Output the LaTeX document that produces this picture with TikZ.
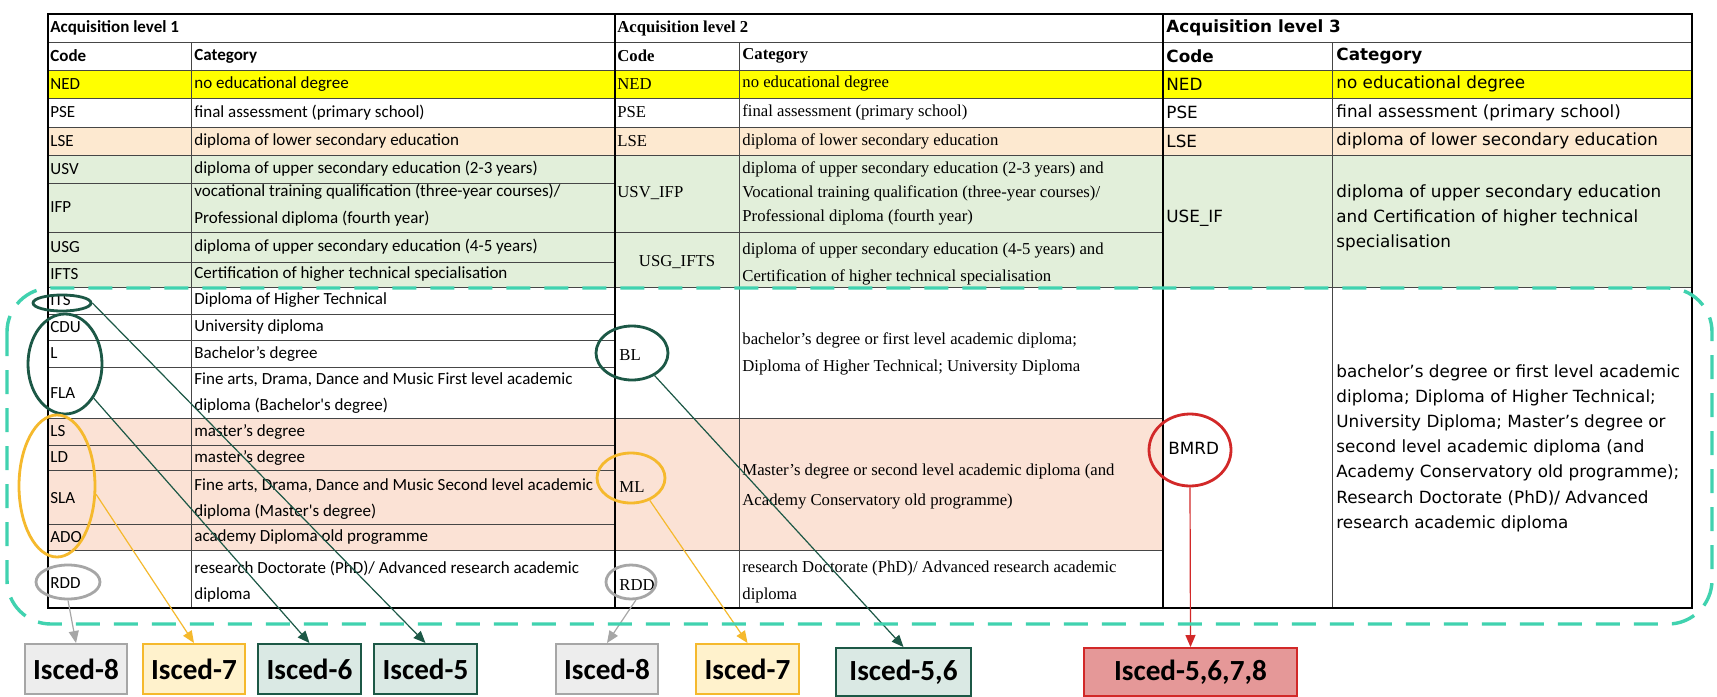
\documentclass[tikz,border=0pt]{standalone}
\usepackage{fontspec}
\setmainfont{Carlito}
\newfontfamily\garfont{Liberation Serif}
\newfontfamily\tahfont{DejaVu Sans}
\usetikzlibrary{shapes.geometric,arrows.meta}

\definecolor{nedyellow}{RGB}{255,255,0}
\definecolor{lsepeach}{RGB}{253,233,208}
\definecolor{uppergreen}{RGB}{226,239,218}
\definecolor{masterpink}{RGB}{251,226,213}
\definecolor{darkgreen}{RGB}{28,88,70}
\definecolor{ringyellow}{RGB}{245,185,45}
\definecolor{ringgray}{RGB}{166,166,166}
\definecolor{ringred}{RGB}{210,40,40}
\definecolor{loopteal}{RGB}{64,210,175}
\definecolor{boxgray}{RGB}{237,237,237}
\definecolor{boxyellow}{RGB}{255,242,204}
\definecolor{boxgreen}{RGB}{218,233,228}
\definecolor{boxred}{RGB}{229,152,152}
\definecolor{gridline}{RGB}{70,70,70}

\begin{document}
\begin{tikzpicture}
  [x=0.5pt,y=-0.5pt,every node/.style={inner sep=0pt},
   ta/.style={anchor=west,align=left,font=\fontsize{8.5}{13.2}\selectfont},
   tah/.style={anchor=west,font=\bfseries\fontsize{8.5}{10}\selectfont},
   tb/.style={anchor=west,align=left,font=\garfont\fontsize{8.35}{13.5}\selectfont},
   tbh/.style={anchor=west,font=\garfont\bfseries\fontsize{8.35}{10}\selectfont},
   tc/.style={anchor=west,align=left,font=\tahfont\fontsize{8.4}{12.6}\selectfont},
   tch/.style={anchor=west,font=\tahfont\bfseries\fontsize{8.4}{10}\selectfont},
   ring/.style={ellipse,draw=#1,line width=1.4pt},
   isced/.style={draw,line width=1pt,minimum height=25pt,font=\bfseries\fontsize{14.6}{16}\selectfont},
   link/.style={draw=#1,line width=0.6pt,-{Triangle[length=6pt,width=5pt]}}]
  \fill[white] (0,0) rectangle (1717,696);
  \useasboundingbox (0,0) rectangle (1717,696);

  % cell colours
  \fill[nedyellow] (48,70) rectangle (1692,98);
  \fill[lsepeach] (48,127) rectangle (1692,155);
  \fill[uppergreen] (48,155) rectangle (1692,287);
  \fill[masterpink] (48,418) rectangle (1163,550);

  % grid
  \foreach \y in {42,70,98,127,155,183,232,262,287,314,340,367,418,445,470,524,550}
    \draw[gridline,line width=0.5pt] (48,\y) -- (615,\y);
  \foreach \y in {42,70,98,127,155,232,287,418,550}
    \draw[gridline,line width=0.5pt] (615,\y) -- (1163,\y);
  \foreach \y in {42,70,98,127,155,287}
    \draw[gridline,line width=0.5pt] (1163,\y) -- (1692,\y);
  \foreach \x in {191,739,1332}
    \draw[gridline,line width=0.5pt] (\x,42) -- (\x,608);
  \foreach \x in {615,1163}
    \draw[line width=1pt] (\x,14) -- (\x,608);
  \draw[line width=1pt] (48,14) rectangle (1692,608);

  % level 1
  \node[tah] (h1) at (50,28) {Acquisition level 1};
  \node[tah] (k1) at (50,56) {Code};
  \node[tah] (c1) at (194,56) {Category};
  \node[ta] (ned1) at (50,84) {NED};
  \node[ta] (ned1t) at (194,84) {no educational degree};
  \node[ta] (pse1) at (50,112.5) {PSE};
  \node[ta] (pse1t) at (194,112.5) {final assessment (primary school)};
  \node[ta] (lse1) at (50,141) {LSE};
  \node[ta] (lse1t) at (194,141) {diploma of lower secondary education};
  \node[ta] (usv) at (50,169) {USV};
  \node[ta] (usvt) at (194,169) {diploma of upper secondary education (2-3 years)};
  \node[ta] (ifp) at (50,207.5) {IFP};
  \node[ta] (ifpt) at (194,205) {vocational training qualification (three-year courses)/\\Professional diploma (fourth year)};
  \node[ta] (usg) at (50,247) {USG};
  \node[ta] (usgt) at (194,247) {diploma of upper secondary education (4-5 years)};
  \node[ta] (ifts) at (50,274.5) {IFTS};
  \node[ta] (iftst) at (194,274.5) {Certification of higher technical specialisation};
  \node[ta] (itsc) at (50,300.5) {ITS};
  \node[ta] (itst) at (194,300.5) {Diploma of Higher Technical};
  \node[ta] (cdu) at (50,327) {CDU};
  \node[ta] (cdut) at (194,327) {University diploma};
  \node[ta] (lc) at (50,353.5) {L};
  \node[ta] (lt) at (194,353.5) {Bachelor’s degree};
  \node[ta] (fla) at (50,393) {FLA};
  \node[ta] (flat) at (194,393) {Fine arts, Drama, Dance and Music First level academic\\diploma (Bachelor\textquotesingle s degree)};
  \node[ta] (ls) at (50,431.5) {LS};
  \node[ta] (lst) at (194,431.5) {master’s degree};
  \node[ta] (ld) at (50,457.5) {LD};
  \node[ta] (ldt) at (194,457.5) {master’s degree};
  \node[ta] (sla) at (50,498) {SLA};
  \node[ta] (slat) at (194,499) {Fine arts, Drama, Dance and Music Second level academic\\diploma (Master\textquotesingle s degree)};
  \node[ta] (ado) at (50,537) {ADO};
  \node[ta] (adot) at (194,537) {academy Diploma old programme};
  \node[ta] (rdd1) at (50,583) {RDD};
  \node[ta] (rdd1t) at (194,581.5) {research Doctorate (PhD)/ Advanced research academic\\diploma};

  % level 2
  \node[tbh] (h2) at (617,28) {Acquisition level 2};
  \node[tbh] (k2) at (617,56) {Code};
  \node[tbh] (c2) at (742,56) {Category};
  \node[tb] (ned2) at (617,84) {NED};
  \node[tb] (ned2t) at (742,84) {no educational degree};
  \node[tb] (pse2) at (617,112.5) {PSE};
  \node[tb] (pse2t) at (742,112.5) {final assessment (primary school)};
  \node[tb] (lse2) at (617,141) {LSE};
  \node[tb] (lse2t) at (742,141) {diploma of lower secondary education};
  \node[tb] (usvifp) at (617,193) {USV\_IFP};
  \node[tb,font=\garfont\fontsize{8.35}{11.8}\selectfont] (usvifpt) at (742,193.5)
    {diploma of upper secondary education (2-3 years) and\\Vocational training qualification (three-year courses)/\\Professional diploma (fourth year)};
  \node[tb,anchor=center] (usgifts) at (677,262) {USG\_IFTS};
  \node[tb] (usgiftst) at (742,263.5) {diploma of upper secondary education (4-5 years) and\\Certification of higher technical specialisation};
  \node[tb] (blc) at (619,355) {BL};
  \node[tb] (blt) at (742,354) {bachelor’s degree or first level academic diploma;\\Diploma of Higher Technical; University Diploma};
  \node[tb] (mlc) at (619,487) {ML};
  \node[tb,font=\garfont\fontsize{8.35}{15}\selectfont] (mlt) at (742,487) {Master’s degree or second level academic diploma (and\\Academy Conservatory old programme)};
  \node[tb] (rdd2) at (619,585) {RDD};
  \node[tb] (rdd2t) at (742,581.5) {research Doctorate (PhD)/ Advanced research academic\\diploma};

  % level 3
  \node[tch] (h3) at (1166,28) {Acquisition level 3};
  \node[tch] (k3) at (1166,56) {Code};
  \node[tch] (c3) at (1336,56) {Category};
  \node[tc] (ned3) at (1166,84) {NED};
  \node[tc] (ned3t) at (1336,84) {no educational degree};
  \node[tc] (pse3) at (1166,112.5) {PSE};
  \node[tc] (pse3t) at (1336,112.5) {final assessment (primary school)};
  \node[tc] (lse3) at (1166,141) {LSE};
  \node[tc] (lse3t) at (1336,141) {diploma of lower secondary education};
  \node[tc] (useif) at (1166,218) {USE\_IF};
  \node[tc] (useift) at (1336,218) {diploma of upper secondary education\\and Certification of higher technical\\specialisation};
  \node[tc] (bmrdc) at (1168,448) {BMRD};
  \node[tc] (bmrdt) at (1336,448) {bachelor’s degree or first level academic\\diploma; Diploma of Higher Technical;\\University Diploma; Master’s degree or\\second level academic diploma (and\\Academy Conservatory old programme);\\Research Doctorate (PhD)/ Advanced\\research academic diploma};

  % rings
  \node[ring=darkgreen,minimum width=29pt,minimum height=8pt] (its) at (62,303) {};
  \node[ring=darkgreen,minimum width=37pt,minimum height=50pt] (clf) at (65,364) {};
  \node[ring=ringyellow,minimum width=38pt,minimum height=71pt] (lsg) at (57,486) {};
  \node[ring=ringgray,minimum width=32pt,minimum height=17pt] (rdda) at (68,582) {};
  \node[ring=darkgreen,minimum width=36pt,minimum height=27pt] (bl) at (632,353) {};
  \node[ring=ringyellow,minimum width=34pt,minimum height=25pt] (ml) at (631,478) {};
  \node[ring=ringgray,minimum width=25pt,minimum height=17pt] (rddb) at (631,582) {};
  \node[ring=ringred,minimum width=41pt,minimum height=36pt] (bmrd) at (1190,450) {};

  % isced boxes
  \node[isced,fill=boxgray,draw=ringgray,minimum width=51pt] (a8) at (76,669) {Isced-8};
  \node[isced,fill=boxyellow,draw=ringyellow,minimum width=51pt] (a7) at (194,669) {Isced-7};
  \node[isced,fill=boxgreen,draw=darkgreen,minimum width=51.5pt] (a6) at (309.5,669) {Isced-6};
  \node[isced,fill=boxgreen,draw=darkgreen,minimum width=51.5pt] (a5) at (425.5,669) {Isced-5};
  \node[isced,fill=boxgray,draw=ringgray,minimum width=51pt] (b8) at (607,669) {Isced-8};
  \node[isced,fill=boxyellow,draw=ringyellow,minimum width=51.5pt] (b7) at (747.5,669) {Isced-7};
  \node[isced,fill=boxgreen,draw=darkgreen,minimum width=67.5pt,minimum height=24pt] (b56) at (903.5,672) {Isced-5,6};
  \node[isced,fill=boxred,draw=ringred,minimum width=106.5pt,minimum height=24pt] (c5678) at (1190.5,672) {Isced-5,6,7,8};

  \foreach \from/\to/\c in {its.east/a5/darkgreen,clf.-50/a6/darkgreen,lsg.-12/a7/ringyellow,rdda.south/a8/ringgray,
                            bl.-45/b56/darkgreen,ml.-50/b7/ringyellow,rddb.-75/b8/ringgray,bmrd.south/c5678/ringred}
    \draw[link=\c] (\from) -- (\to.north);

  % dashed loop
  \draw[loopteal,line width=1.7pt,dash pattern=on 12pt off 7pt,rounded corners=22pt] (7,288) rectangle (1712,624);
\end{tikzpicture}
\end{document}
